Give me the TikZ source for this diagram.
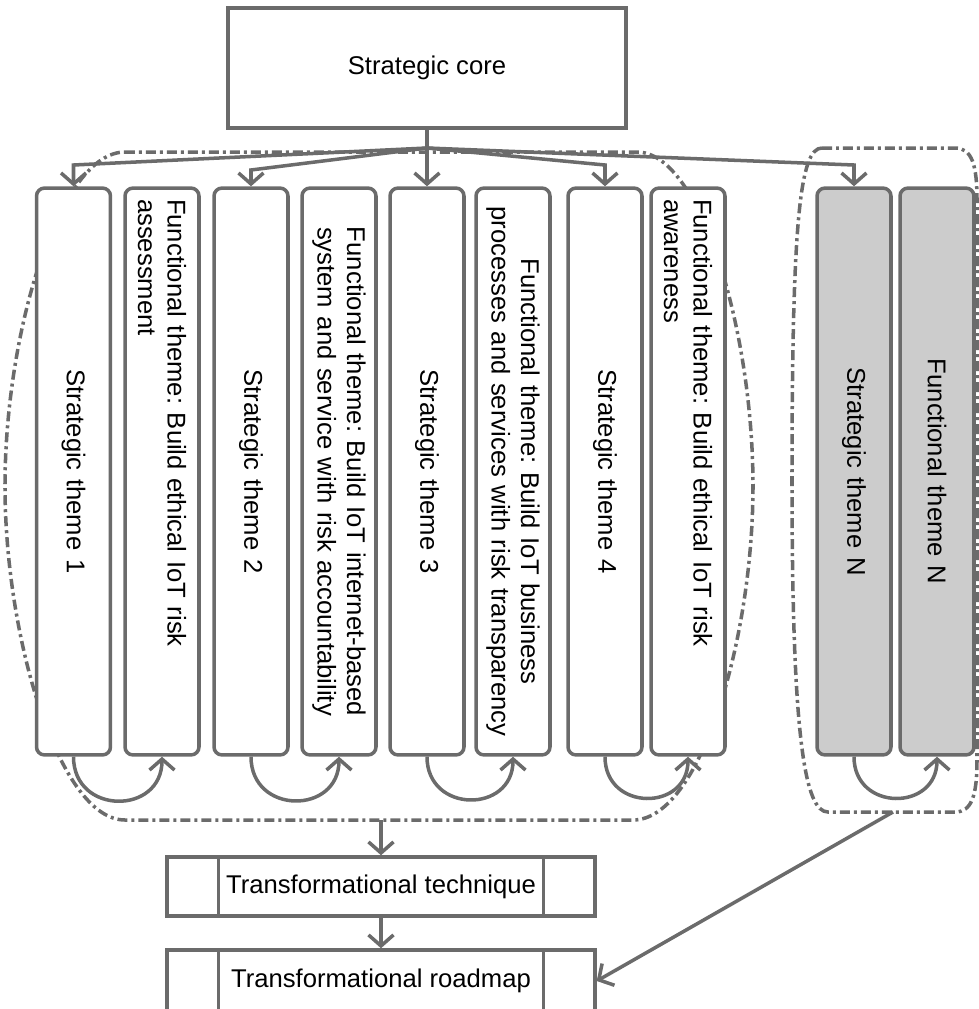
\documentclass[tikz,border=0pt]{standalone}
\usepackage{fontspec}
\setmainfont{Liberation Sans}
\usetikzlibrary{arrows.meta}

\definecolor{linegray}{HTML}{6B6B6B}
\definecolor{themegray}{HTML}{CCCCCC}

\tikzset{
	conn/.style={draw=linegray, line width=2pt},
	arr/.style={conn, -{Straight Barb[length=0.22cm,width=0.5cm]}},
	themebox/.style={draw=linegray, fill=white, line width=2pt, rounded corners=0.16cm, rotate=-90,
		minimum width=11.34cm, minimum height=1.48cm, inner sep=0.15cm, text width=10.9cm, align=center},
	groupline/.style={draw=linegray, line width=2pt, dash pattern=on 0.2cm off 0.08cm on 0.06cm off 0.08cm},
	procbox/.style={draw=linegray, line width=2pt, minimum width=8.56cm, minimum height=1.18cm, inner sep=0pt},
}

\begin{document}
\frenchspacing
\begin{tikzpicture}[x=0.02cm, y=-0.02cm, font=\fontsize{14.6}{16.8}\selectfont]% {{{ themes
	\useasboundingbox (0,0) rectangle (979,1009);

	% groups
	\draw[groupline] (125,152) -- (637,152) .. controls (700,152) and (753,330) .. (753,486)
		.. controls (753,640) and (700,820) .. (633,820) -- (125,820)
		.. controls (60,820) and (5,640) .. (5,486) .. controls (5,330) and (60,152) .. (125,152) -- cycle;
	\draw[groupline] (822,148) -- (955,148) .. controls (972,148) and (977,165) .. (977,200) -- (977,760)
		.. controls (977,795) and (972,812) .. (955,812) -- (828,812)
		.. controls (805,812) and (792,740) .. (792,480) .. controls (792,220) and (800,148) .. (822,148) -- cycle;

	\node[draw=linegray, line width=2pt, minimum width=7.96cm, minimum height=2.4cm] (core) at (427,68) {Strategic core};

	\node[themebox] (st1) at (73.5,471.5) {Strategic theme 1};
	\node[themebox, align=left] (ft1) at (162,471.5) {Functional theme: Build ethical IoT risk\\assessment};
	\node[themebox] (st2) at (251,471.5) {Strategic theme 2};
	\node[themebox] (ft2) at (339,471.5) {Functional theme: Build IoT internet-based\\system and service with risk accountability};
	\node[themebox] (st3) at (427,471.5) {Strategic theme 3};
	\node[themebox] (ft3) at (513,471.5) {Functional theme: Build IoT business\\processes and services with risk transparency};
	\node[themebox] (st4) at (605,471.5) {Strategic theme 4};
	\node[themebox, align=left] (ft4) at (688,471.5) {Functional theme: Build ethical IoT risk\\awareness};
	\node[themebox, fill=themegray] (stn) at (854,471.5) {Strategic theme N};
	\node[themebox, fill=themegray] (ftn) at (937,471.5) {Functional theme N};

	\node[procbox] (tech) at (381,886.5) {Transformational technique};
	\node[procbox, minimum height=1.24cm] (road) at (381,981) {Transformational roadmap};
	\foreach \p in {tech, road} {
		\draw[conn] ([xshift=1.06cm]\p.north west) -- ([xshift=1.06cm]\p.south west);
		\draw[conn] ([xshift=-1.06cm]\p.north east) -- ([xshift=-1.06cm]\p.south east);
	}

	% core to strategic themes
	\coordinate (hub) at (427,148);
	\draw[conn] (core.south) -- (hub);
	\draw[arr] (hub) -- (st1.west |- 0,165) -- (st1.west);
	\draw[arr] (hub) -- (st2.west |- 0,170) -- (st2.west);
	\draw[arr] (hub) -- (st3.west);
	\draw[arr] (hub) -- (st4.west |- 0,165) -- (st4.west);
	\draw[arr] (hub) -- (stn.west |- 0,165) -- (stn.west);

	% strategic to functional
	\foreach \s/\f in {st1/ft1, st2/ft2, st3/ft3, st4/ft4, stn/ftn}
		\draw[arr] (\s.east) to[out=-90, in=-90, looseness=1.7] (\f.east);

	\coordinate (g1s) at (381,820);
	\coordinate (g2s) at (893,812);
	\draw[arr] (g1s) -- (tech.north);
	\draw[arr] (tech.south) -- (road.north);
	\draw[arr] (g2s) -- (road.east);
\end{tikzpicture}% }}}
\end{document}
